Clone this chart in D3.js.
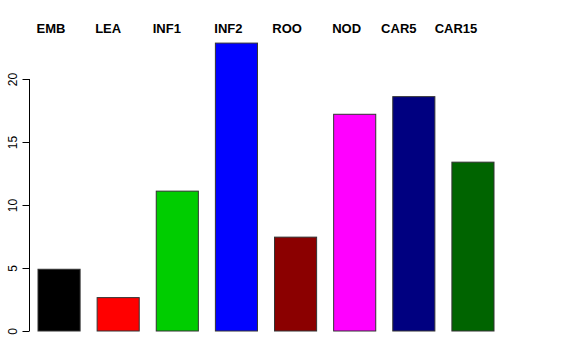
<!DOCTYPE html>
<html><head><meta charset="utf-8">
<script src="https://cdn.jsdelivr.net/npm/d3@7"></script>
<style>body{margin:0;background:#fff}svg{display:block}</style>
</head><body><svg id="c" width="576" height="360"></svg>
<script>
const categories = ["EMB","LEA","INF1","INF2","ROO","NOD","CAR5","CAR15"];
const values = [4.9, 2.65, 11.1, 22.85, 7.45, 17.2, 18.6, 13.4];
const colors = ["#000000","#FF0000","#00CD00","#0000FF","#8B0000","#FF00FF","#000080","#006400"];
const yTicks = [0,5,10,15,20];
// layout: label offsets from bar centers
const labelOffsets = [-8,-10,-10.5,-8,-8.5,-8,-15,-17];

const svg = d3.select("#c");
const x = d3.scaleBand().domain(categories).range([38, 494]).paddingInner(0.288).paddingOuter(0);
const y = d3.scaleLinear().domain([0, 20]).range([331, 79]);

svg.selectAll("rect.bar").data(categories).join("rect")
  .attr("class","bar")
  .attr("x", d => x(d))
  .attr("width", x.bandwidth())
  .attr("y", (d,i) => y(values[i]))
  .attr("height", (d,i) => y(0) - y(values[i]))
  .attr("fill", (d,i) => colors[i])
  .attr("stroke", "#333")
  .attr("stroke-width", 1);

const ax = svg.append("g").attr("transform","translate(29.5,0)")
  .call(d3.axisLeft(y).tickValues(yTicks).tickSize(7).tickPadding(0).tickFormat(d3.format("d")));
ax.select(".domain").attr("d", `M0,${y(0)}V${y(20)}`).attr("stroke","#000");
ax.selectAll(".tick line").attr("stroke","#000");
ax.selectAll(".tick text")
  .attr("font-family","Liberation Sans, Arial, sans-serif")
  .attr("font-size", 12)
  .attr("fill","#000")
  .attr("x", null).attr("dy", null)
  .attr("text-anchor","middle")
  .attr("transform","translate(-13,0) rotate(-90)");

svg.selectAll("text.lab").data(categories).join("text")
  .attr("class","lab")
  .attr("x", (d,i) => x(d) + x.bandwidth()/2 + labelOffsets[i])
  .attr("y", 33)
  .attr("text-anchor","middle")
  .attr("font-family","Liberation Sans, Arial, sans-serif")
  .attr("font-weight","bold")
  .attr("font-size", 13)
  .text(d => d);
</script></body></html>
